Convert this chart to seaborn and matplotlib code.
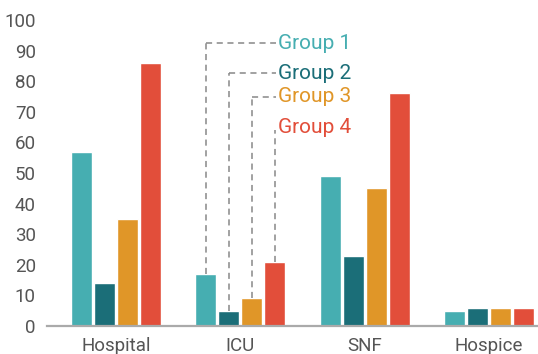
import matplotlib
matplotlib.use("Agg")
import matplotlib.pyplot as plt
import seaborn as sns
import pandas as pd

# Share of patients by care setting, per group
settings = ["Hospital", "ICU", "SNF", "Hospice"]
groups = ["Group 1", "Group 2", "Group 3", "Group 4"]
group1 = [57, 17, 49, 5]
group2 = [14, 5, 23, 6]
group3 = [35, 9, 45, 6]
group4 = [86, 21, 76, 6]
yticks = [0, 10, 20, 30, 40, 50, 60, 70, 80, 90, 100]

palette = ["#46AEB1", "#1B6E78", "#E09628", "#E24E3A"]

rows = []
for g, vals in zip(groups, [group1, group2, group3, group4]):
    for s, v in zip(settings, vals):
        rows.append({"setting": s, "group": g, "value": v})
df = pd.DataFrame(rows)

sns.set_theme(style="white")
plt.rcParams["font.family"] = ["Roboto", "DejaVu Sans"]

fig = plt.figure(figsize=(5.38, 3.54), dpi=100)
ax = fig.add_axes([47 / 538, 28 / 354, 491 / 538, 306 / 354])

sns.barplot(data=df, x="setting", y="value", hue="group", palette=palette,
            order=settings, hue_order=groups, width=0.74, gap=0.08,
            saturation=1, legend=False, ax=ax)

ax.set_xlim(-0.556, 3.395)
ax.set_ylim(0, 100)
ax.set_yticks(yticks)
ax.set_xlabel("")
ax.set_ylabel("")
for side in ["left", "right", "top"]:
    ax.spines[side].set_visible(False)
ax.spines["bottom"].set_color("#AAAAAA")
ax.spines["bottom"].set_linewidth(1.6)
ax.tick_params(axis="y", direction="in", length=11, width=1.2, color="#C0C0C0",
               pad=8, labelsize=13.5, labelcolor="#555555")
ax.tick_params(axis="x", length=0, pad=8, labelsize=13.5, labelcolor="#555555")

# Direct labels linked to the ICU bars with dashed leaders
offsets = [-0.2775, -0.0925, 0.0925, 0.2775]
label_y = [92.4, 82.6, 75.0, 65.0]
text_x = 1.30
icu = settings.index("ICU")
icu_vals = [group1[icu], group2[icu], group3[icu], group4[icu]]
for i, g in enumerate(groups):
    bx = icu + offsets[i]
    top = label_y[i] if i < 3 else label_y[i] - 1
    ax.plot([bx, bx], [icu_vals[i], top], color="#888888", lw=1.1,
            ls=(0, (4, 3)), zorder=1)
    if i < 3:
        ax.plot([bx, text_x - 0.01], [top, top], color="#888888", lw=1.1,
                ls=(0, (4, 3)), zorder=1)
    ax.text(text_x, label_y[i], g, color=palette[i], fontsize=15,
            va="center", ha="left")

fig.savefig("out.png", dpi=100)
